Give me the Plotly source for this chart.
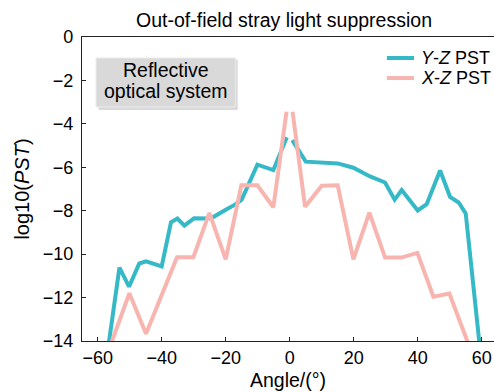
import plotly.graph_objects as go

# ---- data ----
yz_angle = [-57, -53.2, -50.2, -47.0, -44.9, -40.0, -37.1, -35.1, -32.9, -29.9, -25.9, -23.9,
            -19.7, -17.1, -15.0, -10.1, -5.1, -0.9, 0, 0.8, 5.0, 15.0, 19.9, 25.1, 29.8,
            32.8, 35.0, 40.0, 42.8, 47.0, 50.1, 52.8, 55.0, 60]
yz_pst = [-14.6, -10.62, -11.5, -10.43, -10.33, -10.57, -8.53, -8.36, -8.69, -8.35, -8.36, -8.29,
          -7.93, -7.72, -7.49, -5.88, -6.13, -4.62, None, -4.75, -5.74, -5.82, -6.02, -6.42, -6.70,
          -7.49, -7.05, -7.99, -7.70, -6.15, -7.36, -7.62, -8.12, -15.1]

xz_angle = [-56, -50.1, -44.9, -35.2, -30.1, -25.1, -20.0, -15.1, -10.1, -5.1, -1.0, 0, 0.9,
            4.8, 10.0, 15.0, 19.9, 24.9, 29.8, 34.9, 39.9, 44.9, 49.9, 56]
xz_pst = [-14.2, -11.8, -13.67, -10.14, -10.14, -8.1, -10.24, -6.83, -6.83, -7.84, -3.44, None, -3.44,
          -7.82, -6.85, -6.83, -10.24, -8.09, -10.16, -10.16, -9.94, -11.96, -11.81, -14.2]

x_ticks = [-60, -40, -20, 0, 20, 40, 60]
y_ticks = [0, -2, -4, -6, -8, -10, -12, -14]

series_names = ["<i>Y</i>-<i>Z</i> PST", "<i>X</i>-<i>Z</i> PST"]

FONT = "Liberation Sans, Arial, sans-serif"
TEAL = "#36B9C7"
PINK = "#F8B5AF"

fig = go.Figure()
fig.add_trace(go.Scatter(x=yz_angle, y=yz_pst, mode="lines", name=series_names[0],
                         line=dict(color=TEAL, width=4), connectgaps=False, showlegend=False))
fig.add_trace(go.Scatter(x=xz_angle, y=xz_pst, mode="lines", name=series_names[1],
                         line=dict(color=PINK, width=4), connectgaps=False, showlegend=False))

fig.update_layout(
    width=494, height=392,
    margin=dict(l=82, r=0, t=37, b=51, autoexpand=False),
    paper_bgcolor="white", plot_bgcolor="white",
    font=dict(family=FONT, size=18, color="black"),
    title=dict(text="Out-of-field stray light suppression", x=0.575, xref="container",
               xanchor="center", y=1 - 20 / 392, yref="container", yanchor="middle",
               font=dict(size=19.5, family=FONT, color="black")),
    showlegend=False,
)

fig.update_xaxes(range=[-64.9, 63.84], tickvals=x_ticks,
                 ticktext=[str(v).replace("-", "\u2212") for v in x_ticks],
                 ticks="inside", ticklen=4, tickcolor="#222", tickwidth=1,
                 showline=True, linecolor="#222", linewidth=1.2, mirror=True,
                 showgrid=False, zeroline=False, automargin=False,
                 title=dict(text="Angle/(°)", font=dict(size=19.5), standoff=6))
fig.update_yaxes(range=[-14, 0], tickvals=y_ticks,
                 ticktext=[str(v).replace("-", "\u2212") for v in y_ticks],
                 ticks="inside", ticklen=4, tickcolor="#222", tickwidth=1,
                 showline=True, linecolor="#222", linewidth=1.2,
                 showgrid=False, zeroline=False, automargin=False, ticklabelstandoff=4,
                 title=dict(text="log10(<i>PST</i>)", font=dict(size=20), standoff=7))

# legend (drawn as line samples + text, tight spacing like the reference)
legend_rows = [(0.931, TEAL), (0.865, PINK)]
for (ly, col), name in zip(legend_rows, series_names):
    fig.add_shape(type="line", xref="paper", yref="paper", x0=0.740, x1=0.806, y0=ly, y1=ly,
                  line=dict(color=col, width=4), layer="above")
    fig.add_annotation(text=name, xref="paper", yref="paper", x=0.818, y=ly,
                       xanchor="left", yanchor="middle", showarrow=False,
                       font=dict(size=18), align="left")

# annotation box with a soft shadow
fig.add_shape(type="rect", xref="paper", yref="paper", x0=0.040, x1=0.378, y0=0.760, y1=0.925,
              fillcolor="rgba(0,0,0,0.15)", line=dict(width=0), layer="above")
fig.add_shape(type="rect", xref="paper", yref="paper", x0=0.034, x1=0.373, y0=0.770, y1=0.931,
              fillcolor="#D9D9D9", line=dict(color="#EBEBEB", width=1), layer="above")
fig.add_annotation(text="Reflective", xref="paper", yref="paper", x=0.204, y=0.891,
                   xanchor="center", yanchor="middle", showarrow=False, font=dict(size=19.5))
fig.add_annotation(text="optical system", xref="paper", yref="paper", x=0.204, y=0.822,
                   xanchor="center", yanchor="middle", showarrow=False, font=dict(size=19.5))

fig.write_html("out.html", config={"displayModeBar": False},
               post_script="document.body.style.margin='0';")
